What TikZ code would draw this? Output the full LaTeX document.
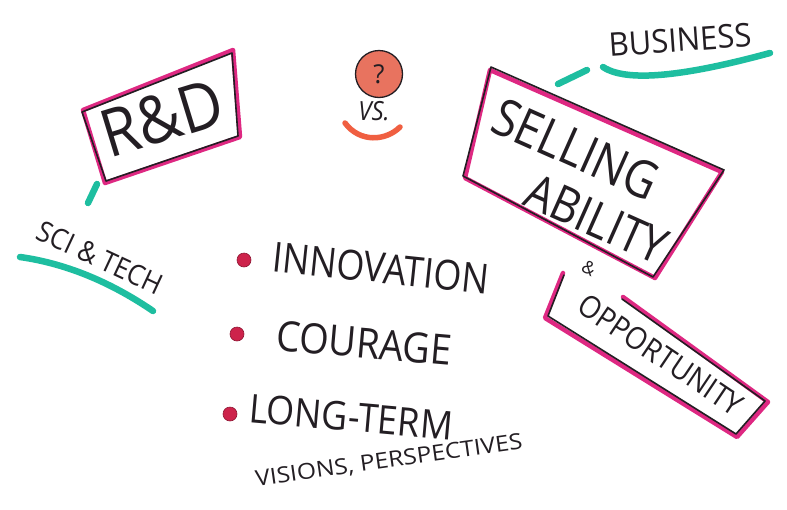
\documentclass[tikz,border=0pt]{standalone}
\usepackage{fontspec}
\setmainfont{Open Sans}
\definecolor{ink}{RGB}{35,30,35}
\definecolor{mag}{RGB}{222,40,130}
\definecolor{teal1}{RGB}{30,190,160}
\definecolor{dotred}{RGB}{205,35,75}
\definecolor{orng}{RGB}{240,95,65}
\definecolor{ballfill}{RGB}{232,115,95}
\tikzset{
  pinkline/.style={draw=mag, line width=4.5pt, line join=round, line cap=round},
  inkline/.style={draw=ink, line width=1.6pt, line join=round, line cap=round},
  tealline/.style={draw=teal1, line width=6.5pt, line cap=round},
  hand/.style={text=ink, inner sep=0pt},
  bullet/.style={circle, fill=dotred, draw=dotred!70!black, line width=0.6pt, minimum size=14pt, inner sep=0pt}
}
\begin{document}
\begin{tikzpicture}[x=1pt,y=-1pt]
\useasboundingbox (0,0) rectangle (787,509);
\fill[white] (0,0) rectangle (787,509);

% R&D box
\coordinate (rdA) at (83,110);
\coordinate (rdB) at (233,50);
\coordinate (rdC) at (240,137);
\coordinate (rdD) at (105,183);
\draw[pinkline] (rdA) -- (rdB) -- (rdC) -- (rdD) -- cycle;
\draw[inkline] ([shift={(-1,2)}]rdA) -- ([shift={(-1,3)}]rdB) -- ([shift={(-2,-1)}]rdC) -- ([shift={(1,-2)}]rdD) -- cycle;
\node[hand, font=\fontsize{60}{62}\selectfont, rotate=17, yscale=1.1] (rd) at (162,118) {R\&D};

% SCI & TECH
\coordinate (rdfoot) at (97,184);
\coordinate (scitop) at (88,203);
\draw[tealline] (rdfoot) -- (scitop);
\node[hand, font=\fontsize{26}{28}\selectfont, rotate=-25, yscale=1.1] (sci) at (100,258) {SCI \& TECH};
\coordinate (u1) at (20,257);
\coordinate (u2) at (153,311);
\draw[tealline] (u1) .. controls (70,264) and (115,285) .. (u2);

% question ball and VS.
\node[circle, fill=ballfill, draw=ink, line width=1.3pt, minimum size=47pt, inner sep=0pt] (ball) at (379,74) {};
\node[hand, font=\fontsize{26}{28}\selectfont] (q) at (ball.center) {?};
\node[hand, font=\fontsize{24}{26}\selectfont\itshape, yscale=1.1] (vs) at (374,111) {VS.};
\coordinate (s1) at (345,123);
\coordinate (s2) at (400,127);
\draw[draw=orng, line width=5.5pt, line cap=round] (s1) .. controls (360,143) and (386,141) .. (s2);

% BUSINESS
\node[hand, font=\fontsize{31}{32}\selectfont, rotate=4, yscale=1.05] (bus) at (680,40) {BUSINESS};
\coordinate (d1) at (558,84);
\coordinate (d2) at (587,70);
\draw[tealline] (d1) -- (d2);
\coordinate (b1) at (603,67);
\coordinate (b2) at (770,53);
\draw[tealline] (b1) .. controls (630,85) and (700,72) .. (b2);

% SELLING ABILITY box
\coordinate (saA) at (490,70);
\coordinate (saB) at (722,172);
\coordinate (saC) at (655,278);
\coordinate (saD) at (465,178);
\draw[pinkline] (saA) -- (saB) -- (saC) -- (saD) -- cycle;
\draw[inkline] ([shift={(1,-3)}]saA) -- ([shift={(2,-2)}]saB) -- ([shift={(-2,-1)}]saC) -- ([shift={(-2,-2)}]saD) -- cycle;
\node[hand, font=\fontsize{45}{46}\selectfont, rotate=-24, yscale=1.15] (selling) at (576,149) {SELLING};
\node[hand, font=\fontsize{43}{44}\selectfont, rotate=-24, yscale=1.15] (ability) at (597,219) {ABILITY};

% OPPORTUNITY box
\node[hand, font=\fontsize{18}{20}\selectfont, rotate=-30] (amp) at (589,268) {\&};
\coordinate (opA) at (563,273);
\coordinate (opB) at (545,318);
\coordinate (opC) at (737,437);
\coordinate (opD) at (768,402);
\coordinate (opE) at (623,297);
\draw[pinkline] (opA) -- (opB) -- (opC) -- (opD) -- (opE);
\draw[inkline] ([shift={(1,2)}]opA) -- ([shift={(3,-2)}]opB) -- ([shift={(-1,-3)}]opC) -- ([shift={(-3,-1)}]opD) -- ([shift={(-1,2)}]opE);
\node[hand, font=\fontsize{28}{30}\selectfont, rotate=-34, yscale=1.1] (opp) at (661,355) {OPPORTUNITY};

% bullets
\node[bullet] (b1dot) at (244,260) {};
\node[bullet] (b2dot) at (237,334) {};
\node[bullet] (b3dot) at (230,414) {};
\node[hand, font=\fontsize{36}{38}\selectfont, rotate=-6, yscale=1.15] (inn) at (381,268) {INNOVATION};
\node[hand, font=\fontsize{38}{40}\selectfont, rotate=-5, yscale=1.1] (cou) at (364,343) {COURAGE};
\node[hand, font=\fontsize{36}{38}\selectfont, rotate=-5, yscale=1.1] (long) at (351,417) {LONG-TERM};
\node[hand, font=\fontsize{22}{24}\selectfont, rotate=8, xscale=1.12] (vis) at (389,461) {VISIONS, PERSPECTIVES};
\end{tikzpicture}
\end{document}
